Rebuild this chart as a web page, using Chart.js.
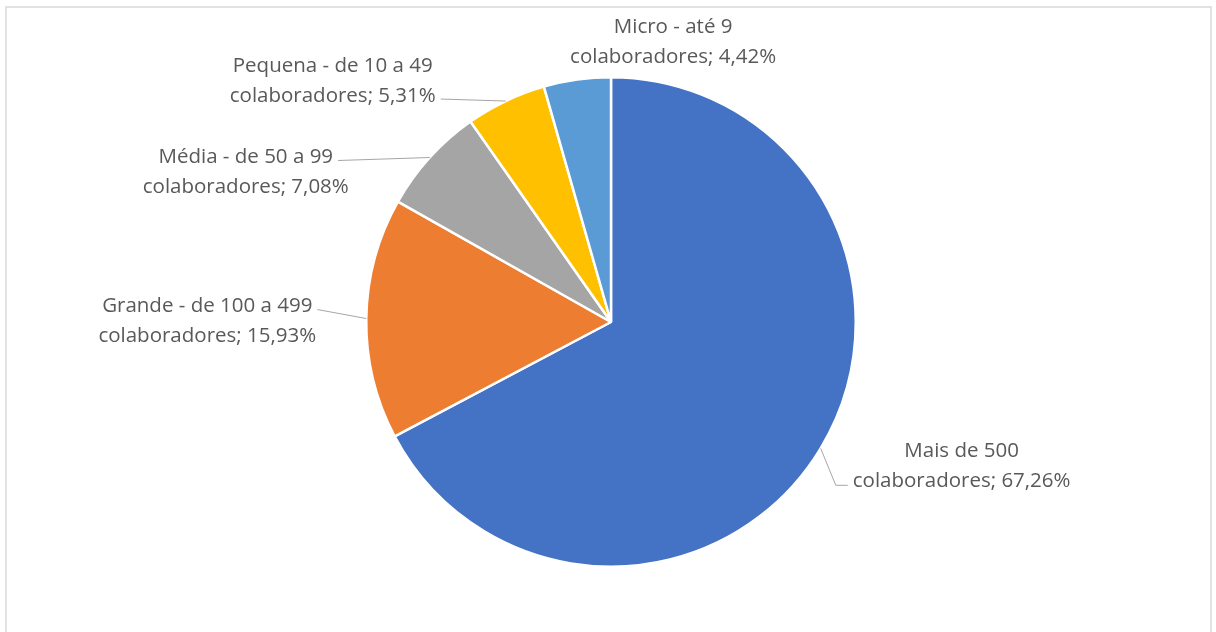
<!DOCTYPE html>
<html>
<head>
<meta charset="utf-8">
<script src="https://cdn.jsdelivr.net/npm/chart.js@4/dist/chart.umd.min.js"></script>
<style>
  html, body { margin: 0; padding: 0; background: #fff; }
  #wrap { width: 1216px; height: 632px; }
</style>
</head>
<body>
<div id="wrap"><canvas id="pieCanvas"></canvas></div>
<script>
const categories = [
  'Mais de 500 colaboradores',
  'Grande - de 100 a 499 colaboradores',
  'Média - de 50 a 99 colaboradores',
  'Pequena - de 10 a 49 colaboradores',
  'Micro - até 9 colaboradores'
];
const percents = [67.26, 15.93, 7.08, 5.31, 4.42];
const colors = ['#4472C4', '#ED7D31', '#A5A5A5', '#FFC000', '#5B9BD5'];

// where each label block sits, measured from the middle of its slice's outer edge
const labelOffsets = [
  { dx: 141, dy: 16, leader: 'elbow' },
  { dx: -159, dy: 1, leader: 'left' },
  { dx: -184, dy: 13, leader: 'left' },
  { dx: -173, dy: -22, leader: 'left' },
  { dx: 96, dy: -39, leader: 'none' }
];

const FONT = '20.5px "Open Sans", sans-serif';
const LINE_H = 30;
const WRAP_W = 232;
const TEXT_DY = 2; // 'middle' baseline sits a touch high for this font

function fmt(v) {
  return v.toFixed(2).replace('.', ',') + '%';
}

function wrap(ctx, text, maxWidth) {
  const words = text.split(' ');
  const lines = [];
  let cur = '';
  words.forEach(w => {
    const test = cur ? cur + ' ' + w : w;
    if (cur && ctx.measureText(test).width > maxWidth) {
      lines.push(cur);
      cur = w;
    } else {
      cur = test;
    }
  });
  if (cur) lines.push(cur);
  return lines;
}

const frame = {
  id: 'frame',
  beforeDraw(chart) {
    const c = chart.ctx;
    c.save();
    c.fillStyle = '#fff';
    c.fillRect(0, 0, chart.width, chart.height);
    c.strokeStyle = '#D9D9D9';
    c.lineWidth = 1.5;
    c.strokeRect(6, 7, chart.width - 11, chart.height + 20);
    c.restore();
  }
};

const outsideLabels = {
  id: 'outsideLabels',
  afterDatasetsDraw(chart) {
    const c = chart.ctx;
    const meta = chart.getDatasetMeta(0);
    c.save();
    c.font = FONT;
    c.textAlign = 'center';
    c.textBaseline = 'middle';
    meta.data.forEach((arc, i) => {
      const mid = (arc.startAngle + arc.endAngle) / 2;
      const ax = arc.x + Math.cos(mid) * arc.outerRadius;
      const ay = arc.y + Math.sin(mid) * arc.outerRadius;
      const off = labelOffsets[i];
      const cx = ax + off.dx;
      const cy = ay + off.dy;
      const text = categories[i] + '; ' + fmt(percents[i]);
      const lines = wrap(c, text, WRAP_W);
      const top = cy - (lines.length - 1) * LINE_H / 2;

      c.fillStyle = '#595959';
      lines.forEach((ln, k) => c.fillText(ln, cx, top + k * LINE_H + TEXT_DY));

      c.strokeStyle = '#A6A6A6';
      c.lineWidth = 1;
      c.beginPath();
      if (off.leader === 'left') {
        // leave from the end of the line nearest to the slice
        let best = 0;
        lines.forEach((ln, k) => {
          if (Math.abs(top + k * LINE_H - ay) < Math.abs(top + best * LINE_H - ay)) best = k;
        });
        const w = c.measureText(lines[best]).width;
        c.moveTo(cx + w / 2 + 5, top + best * LINE_H + 5);
        c.lineTo(ax, ay);
      } else if (off.leader === 'elbow') {
        const last = lines.length - 1;
        const w = c.measureText(lines[last]).width;
        const ly = top + last * LINE_H + 6;
        const lx = cx - w / 2 - 5;
        c.moveTo(ax, ay);
        c.lineTo(lx - 12, ly);
        c.lineTo(lx, ly);
      }
      c.stroke();
    });
    c.restore();
  }
};

new Chart(document.getElementById('pieCanvas'), {
  type: 'pie',
  data: {
    labels: categories,
    datasets: [{
      data: percents,
      backgroundColor: colors,
      borderColor: '#ffffff',
      borderWidth: 2.5,
      hoverOffset: 0
    }]
  },
  options: {
    responsive: true,
    maintainAspectRatio: false,
    animation: false,
    events: [],
    layout: {
      padding: { top: 76, bottom: 64, left: 365, right: 359 }
    },
    plugins: {
      legend: { display: false },
      tooltip: { enabled: false }
    }
  },
  plugins: [frame, outsideLabels]
});
</script>
</body>
</html>
